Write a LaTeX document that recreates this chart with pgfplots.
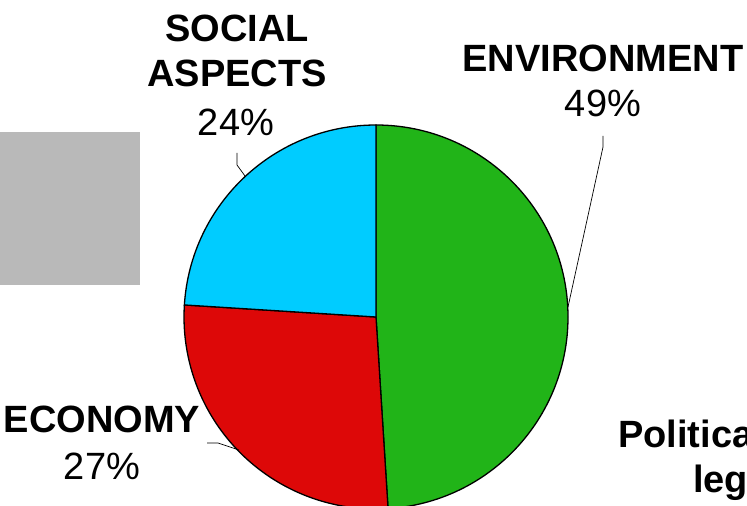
\documentclass[border=0pt]{standalone}
\usepackage{pgfplots}
\pgfplotsset{compat=1.18}
\usepackage{fontspec}
\setmainfont{Liberation Sans}

\definecolor{envgreen}{RGB}{33,180,24}
\definecolor{ecored}{RGB}{221,8,8}
\definecolor{socblue}{RGB}{0,204,255}
\definecolor{boxgray}{RGB}{185,185,185}

% shares in percent
\def\vEnv{49}
\def\vEco{27}
\def\vSoc{24}
\pgfmathsetmacro\aA{90-3.6*\vEnv}
\pgfmathsetmacro\aB{\aA-3.6*\vEco}
\pgfmathsetmacro\aC{\aB-3.6*\vSoc}

\begin{document}
\begin{tikzpicture}[
    lbl/.style={anchor=base, inner sep=0pt, font=\fontsize{38}{44}\selectfont},
    blbl/.style={anchor=base, inner sep=0pt, font=\fontsize{38}{44}\selectfont\bfseries},
]
\useasboundingbox (0,0) rectangle (747pt,506pt);
\clip (0,0) rectangle (747pt,506pt);
\begin{axis}[
    at={(0,0)}, anchor=south west,
    scale only axis,
    width=747pt, height=506pt,
    xmin=0, xmax=747, ymin=0, ymax=506,
    hide axis,
    clip=false,
]
% grey box on the left
\fill[boxgray] (axis cs:0,221) rectangle (axis cs:140,374);

% slices, clockwise from the top
\filldraw[fill=envgreen, draw=black, line width=1.3pt]
    (axis cs:376,189) -- ++(90:192pt) arc[start angle=90, end angle=\aA, radius=192pt] -- cycle;
\filldraw[fill=ecored, draw=black, line width=1.3pt]
    (axis cs:376,189) -- ++(\aA:192pt) arc[start angle=\aA, end angle=\aB, radius=192pt] -- cycle;
\filldraw[fill=socblue, draw=black, line width=1.3pt]
    (axis cs:376,189) -- ++(\aB:192pt) arc[start angle=\aB, end angle=\aC, radius=192pt] -- cycle;

% leader lines
\draw[line width=0.7pt] (axis cs:237,353) -- (axis cs:237,341) -- (axis cs:245,330);
\draw[line width=0.7pt] (axis cs:603,370) -- (axis cs:603,359) -- (axis cs:568,199);
\draw[line width=0.7pt] (axis cs:207,63) -- (axis cs:218,63) -- (axis cs:239,56);

% labels
\node[blbl] at (axis cs:237,464) {SOCIAL};
\node[blbl] at (axis cs:237,419) {ASPECTS};
\node[lbl] at (axis cs:236,370) {24\%};
\node[blbl] at (axis cs:603,434) {ENVIRONMENT};
\node[lbl] at (axis cs:603,389) {49\%};
\node[blbl] at (axis cs:102,73) {ECONOMY};
\node[lbl] at (axis cs:102,26) {27\%};
\node[blbl, anchor=base west] at (axis cs:618,58) {Political};
\node[blbl, anchor=base west] at (axis cs:693,13) {legal};
\end{axis}
\end{tikzpicture}
\end{document}
